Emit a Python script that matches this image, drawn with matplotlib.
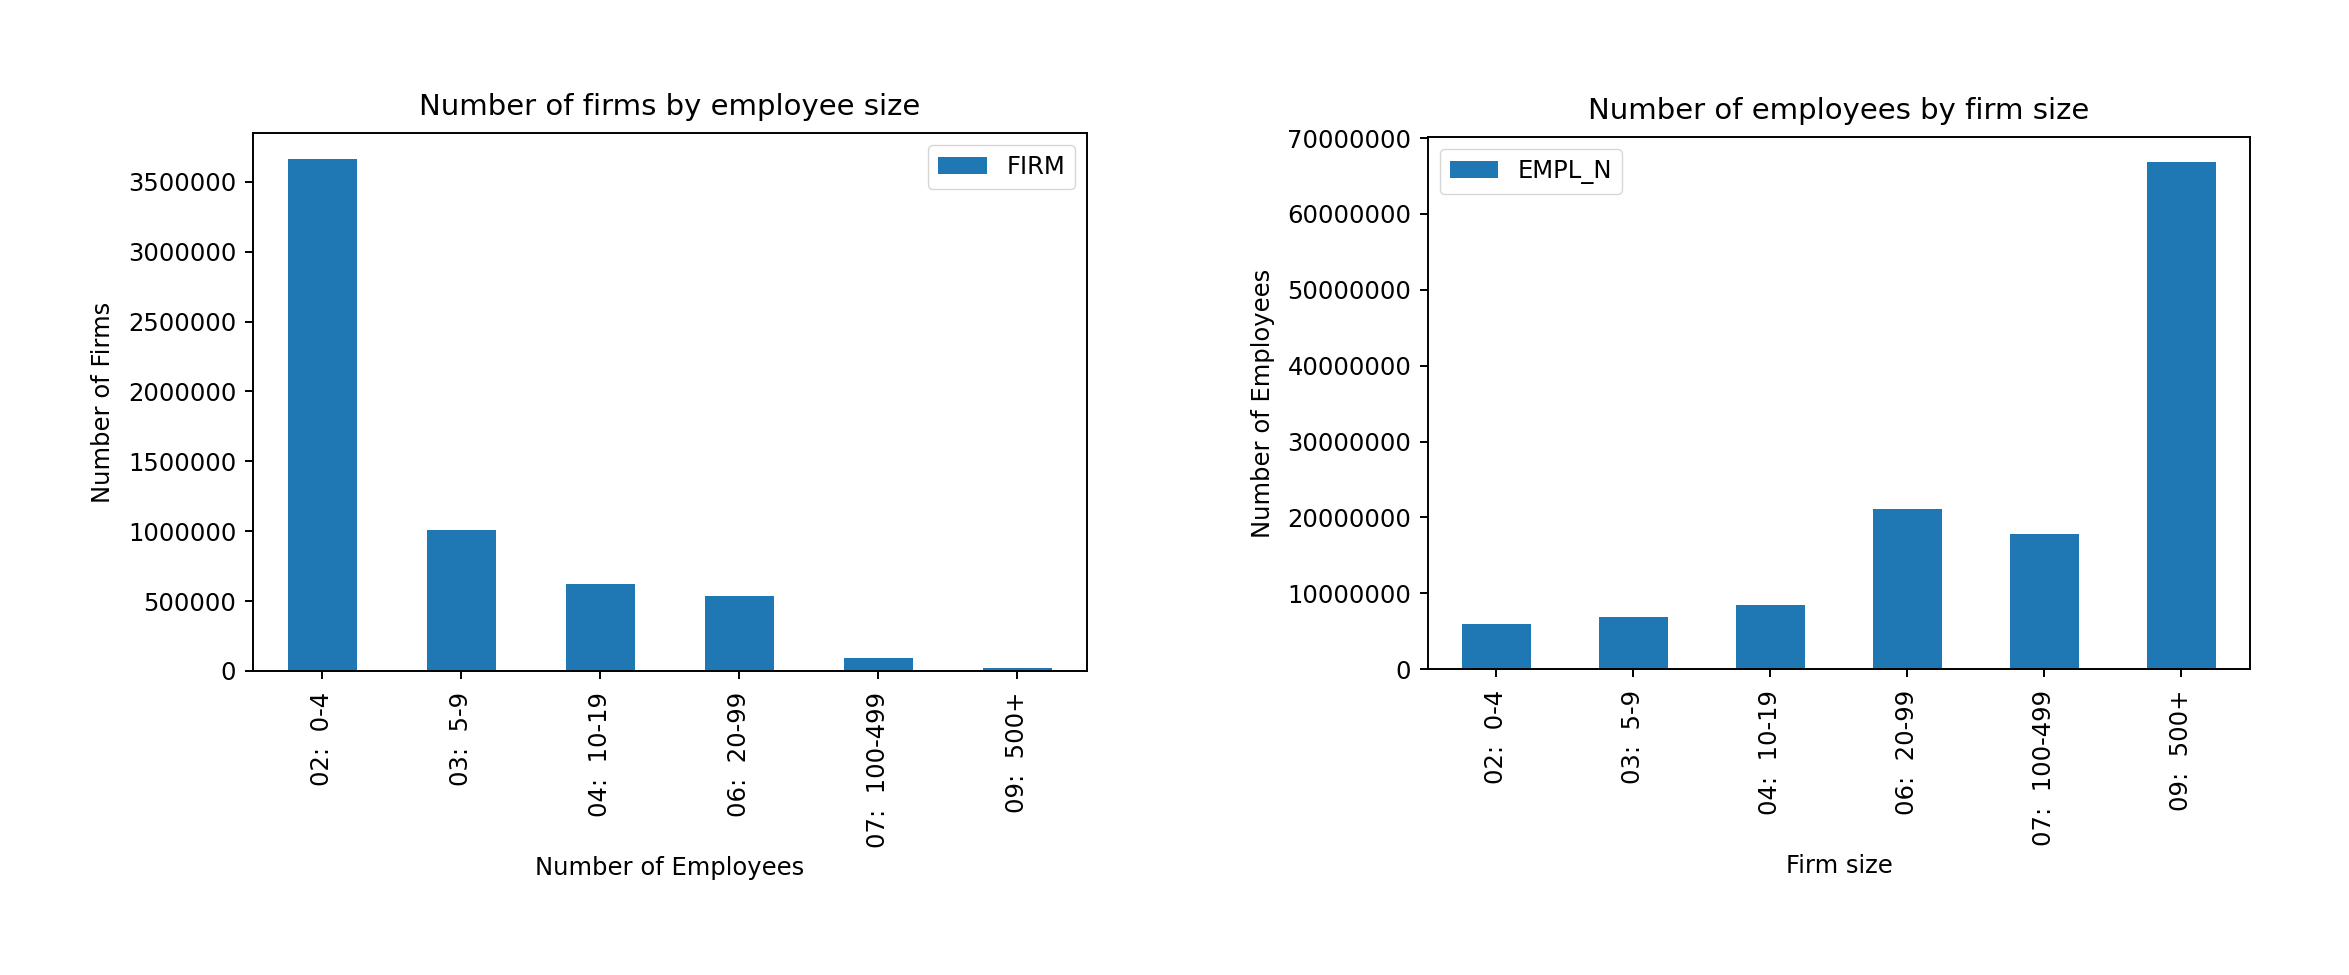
import numpy as np
import matplotlib
matplotlib.use("Agg")
import matplotlib.pyplot as plt

# size classes and values
size_classes = ["02:  0-4", "03:  5-9", "04:  10-19", "06:  20-99", "07:  100-499", "09:  500+"]
firms = [3666000, 1012000, 625000, 535000, 96000, 21000]
employees = [5880000, 6870000, 8480000, 21050000, 17850000, 66800000]

plt.rcParams["font.family"] = ["DejaVu Sans"]
fs = 17.5
fs_title = 21

plt.rcParams["axes.linewidth"] = 1.4
plt.rcParams["xtick.major.width"] = 1.4
plt.rcParams["ytick.major.width"] = 1.4
plt.rcParams["xtick.major.size"] = 6
plt.rcParams["ytick.major.size"] = 6
plt.rcParams["xtick.major.pad"] = 9
plt.rcParams["ytick.major.pad"] = 6

fig = plt.figure(figsize=(23.49, 9.75), dpi=100)
ax1 = fig.add_axes([0.1077, 0.3118, 0.3550, 0.5518])
ax2 = fig.add_axes([0.6079, 0.3138, 0.3499, 0.5456])

x = np.arange(len(size_classes))


def bar_panel(ax, vals, name, title, xlab, ylab, legloc):
    ax.bar(x, vals, width=0.5, color="#1f77b4", label=name)
    ax.set_xlim(-0.5, len(vals) - 0.5)
    ax.set_xticks(x)
    ax.set_xticklabels(size_classes, rotation=90, fontsize=fs)
    ax.ticklabel_format(axis="y", style="plain", useOffset=False)
    ax.tick_params(axis="y", labelsize=fs)
    ax.set_title(title, fontsize=fs_title, pad=13)
    ax.set_xlabel(xlab, fontsize=fs, labelpad=6)
    ax.set_ylabel(ylab, fontsize=fs, labelpad=9)
    ax.legend(loc=legloc, fontsize=fs)


bar_panel(ax1, firms, "FIRM", "Number of firms by employee size",
          "Number of Employees", "Number of Firms", "upper right")
bar_panel(ax2, employees, "EMPL_N", "Number of employees by firm size",
          "Firm size", "Number of Employees", "upper left")

fig.savefig("out.png", dpi=100, facecolor="white")
